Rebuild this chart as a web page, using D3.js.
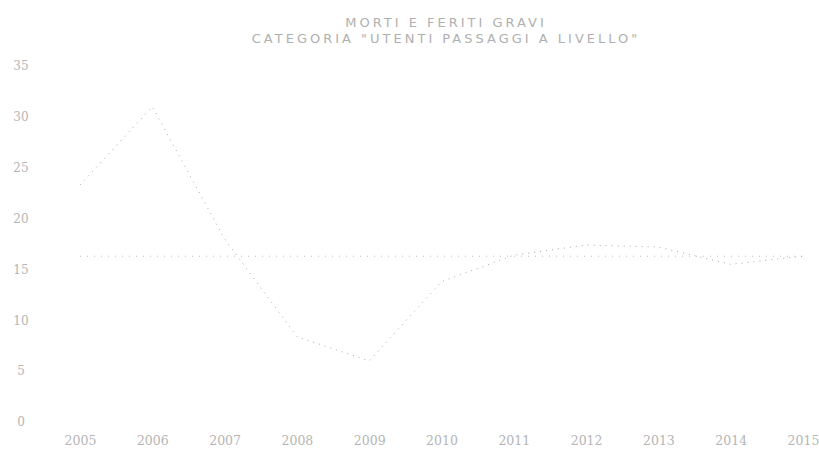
<!DOCTYPE html>
<html>
<head>
<meta charset="utf-8">
<script src="https://cdn.jsdelivr.net/npm/d3@7"></script>
<style>
  html, body { margin: 0; padding: 0; background: #ffffff; }
  svg { display: block; }
</style>
</head>
<body>
<svg id="chart" width="819" height="450"></svg>
<script>
// ---- data ----
const titleLines = ["MORTI E FERITI GRAVI", "CATEGORIA \"UTENTI PASSAGGI A LIVELLO\""];
const years = ["2005", "2006", "2007", "2008", "2009", "2010", "2011", "2012", "2013", "2014", "2015"];
const mortiFeriti = [23.3, 31, 18, 8.4, 6, 13.8, 16.4, 17.4, 17.2, 15.5, 16.3];
const riferimento = [16.3, 16.3, 16.3, 16.3, 16.3, 16.3, 16.3, 16.3, 16.3, 16.3, 16.3];
const yTicks = [0, 5, 10, 15, 20, 25, 30, 35];

// ---- layout ----
const svg = d3.select("#chart");
const plotLeft = 80, plotRight = 803, plotTop = 66, plotBottom = 422;

const x = d3.scalePoint().domain(years).range([plotLeft, plotRight]);
const y = d3.scaleLinear().domain([0, 35]).range([plotBottom, plotTop]);

// title
svg.append("g").selectAll("text").data(titleLines).join("text")
  .attr("x", 446)
  .attr("y", (d, i) => 27 + i * 16)
  .attr("text-anchor", "middle")
  .attr("font-family", "DejaVu Sans, sans-serif")
  .attr("font-size", 13)
  .attr("letter-spacing", 3)
  .attr("fill", "#b0b0b0")
  .text(d => d);

// y axis (labels only)
const yAxis = svg.append("g")
  .attr("transform", `translate(${plotLeft - 59},0)`)
  .call(d3.axisLeft(y).tickValues(yTicks).tickSize(0).tickPadding(0).tickFormat(d3.format("d")));
yAxis.select(".domain").remove();
yAxis.selectAll("text")
  .attr("text-anchor", "middle")
  .attr("font-family", "DejaVu Serif, serif")
  .attr("font-size", 12)
  .attr("fill", "#b5b5b5");

// x axis (labels only)
const xAxis = svg.append("g")
  .attr("transform", `translate(0,${plotBottom + 14})`)
  .call(d3.axisBottom(x).tickSize(0).tickPadding(0));
xAxis.select(".domain").remove();
xAxis.selectAll("text")
  .attr("font-family", "DejaVu Serif, serif")
  .attr("font-size", 12.5)
  .attr("fill", "#b5b5b5");

const line = d3.line()
  .x((d, i) => x(years[i]))
  .y(d => y(d));

// reference (horizontal) line
svg.append("path")
  .datum(riferimento)
  .attr("d", line)
  .attr("fill", "none")
  .attr("stroke", "#bdbdbd")
  .attr("stroke-width", 1)
  .attr("stroke-dasharray", "1,6");

// main series
svg.append("path")
  .datum(mortiFeriti)
  .attr("d", line)
  .attr("fill", "none")
  .attr("stroke", "#a8a8a8")
  .attr("stroke-width", 1)
  .attr("stroke-dasharray", "1,5");
</script>
</body>
</html>
